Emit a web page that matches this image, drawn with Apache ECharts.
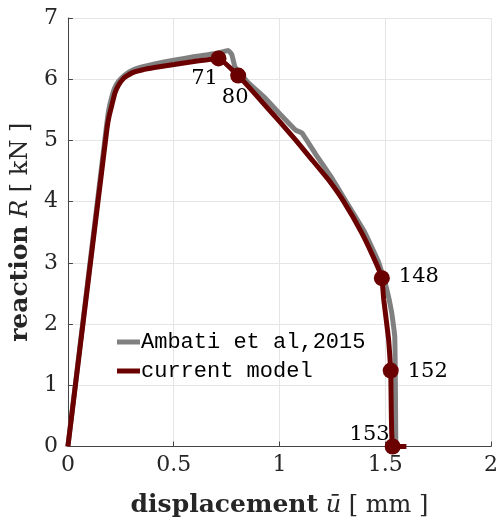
<!DOCTYPE html>
<html><head><meta charset="utf-8">
<script src="https://cdn.jsdelivr.net/npm/echarts@6/dist/echarts.min.js"></script>
<style>html,body{margin:0;padding:0;background:#fff}#c{width:501px;height:523px}</style>
</head><body><div id="c"></div>
<script>
// Ambati et al, 2015 (reference curve)
const ambatiX = [0, 0.183, 0.193, 0.205, 0.22, 0.24, 0.27, 0.30, 0.35, 0.41, 0.50, 0.60, 0.70, 0.758, 0.775, 0.79, 0.85, 0.93, 1.00, 1.076, 1.107, 1.17, 1.245, 1.31, 1.40, 1.47, 1.505, 1.53, 1.545, 1.548, 1.55];
const ambatiY = [0, 5.25, 5.50, 5.68, 5.85, 5.97, 6.07, 6.14, 6.20, 6.25, 6.31, 6.37, 6.42, 6.47, 6.40, 6.20, 5.95, 5.70, 5.44, 5.17, 5.12, 4.78, 4.40, 4.03, 3.52, 3.00, 2.60, 2.20, 1.80, 1.00, 0];
// current model
const modelX = [0, 0.185, 0.195, 0.208, 0.222, 0.239, 0.265, 0.301, 0.35, 0.409, 0.502, 0.595, 0.712, 0.805, 0.90, 1.00, 1.078, 1.15, 1.231, 1.304, 1.389, 1.456, 1.484, 1.493, 1.516, 1.526, 1.535, 1.60];
const modelY = [0, 5.20, 5.40, 5.58, 5.77, 5.90, 6.02, 6.10, 6.15, 6.19, 6.24, 6.29, 6.34, 6.06, 5.70, 5.31, 5.00, 4.70, 4.36, 4.00, 3.49, 3.00, 2.75, 2.40, 1.75, 1.24, 0, 0];
// labelled steps
const stepIds = ['71', '80', '148', '152', '153'];
const stepX = [0.712, 0.805, 1.484, 1.526, 1.535];
const stepY = [6.34, 6.06, 2.75, 1.24, 0];
const xTicks = [0, 0.5, 1, 1.5, 2];
const yTicks = [0, 1, 2, 3, 4, 5, 6, 7];

const labelOffsets = [[-14, 20], [-3, 22], [37, -2], [37, 1], [-23, -12]];

const red = '#6b0000', gray = '#808080';
const serif = '"DejaVu Serif", "Liberation Serif", serif';
const zip = (a, b) => a.map((v, i) => [v, b[i]]);

const chart = echarts.init(document.getElementById('c'));
const titleStyle = {
  fontFamily: serif, fontSize: 24, color: '#262626', verticalAlign: 'middle',
  rich: { b: { fontFamily: serif, fontSize: 25, fontWeight: 'bold', color: '#262626' },
          i: { fontFamily: serif, fontSize: 24, fontStyle: 'italic', color: '#262626' },
          n: { fontFamily: serif, fontSize: 24, color: '#262626' } }
};
chart.setOption({
  animation: false,
  backgroundColor: '#fff',
  grid: { left: 67, right: 4, top: 18, bottom: 76 },
  legend: {
    data: ['Ambati et al,2015', 'current model'],
    orient: 'vertical', left: 112, top: 326,
    icon: 'rect', itemWidth: 23, itemHeight: 5, itemGap: 7,
    textStyle: { fontFamily: '"Liberation Mono", "DejaVu Sans Mono", monospace', fontSize: 22, color: '#000', padding: [0, 0, 0, -4] }
  },
  xAxis: {
    type: 'value', min: xTicks[0], max: xTicks[xTicks.length - 1], interval: 0.5,
    axisLine: { show: true, lineStyle: { color: '#444', width: 1 } },
    axisTick: { show: true, inside: true, length: 5, lineStyle: { color: '#444' } },
    axisLabel: { fontFamily: serif, fontSize: 22, color: '#262626', margin: 8, formatter: v => String(v) },
    splitLine: { show: true, lineStyle: { color: '#e5e5e5', width: 1 } },
    name: '{b|displacement} {i|ū} {n|[ mm ]}',
    nameLocation: 'middle', nameGap: 59,
    nameTextStyle: titleStyle
  },
  yAxis: {
    type: 'value', min: yTicks[0], max: yTicks[yTicks.length - 1], interval: 1,
    axisLine: { show: true, lineStyle: { color: '#444', width: 1 } },
    axisTick: { show: true, inside: true, length: 5, lineStyle: { color: '#444' } },
    axisLabel: { fontFamily: serif, fontSize: 22, color: '#262626', margin: 10 },
    splitLine: { show: true, lineStyle: { color: '#e5e5e5', width: 1 } },
    name: '{b|reaction} {i|R} {n|[ kN ]}',
    nameLocation: 'middle', nameGap: 40, nameRotate: 90,
    nameTextStyle: titleStyle
  },
  series: [
    { name: 'Ambati et al,2015', type: 'line', data: zip(ambatiX, ambatiY), showSymbol: false,
      smooth: 0.1, lineStyle: { color: gray, width: 5 }, itemStyle: { color: gray }, z: 2 },
    { name: 'current model', type: 'line', data: zip(modelX, modelY), showSymbol: false,
      smooth: 0.1, lineStyle: { color: red, width: 5 }, itemStyle: { color: red }, z: 3 },
    { name: 'steps', type: 'scatter', symbolSize: 16, itemStyle: { color: red, opacity: 1 }, z: 4,
      data: stepIds.map((id, i) => ({
        value: [stepX[i], stepY[i]],
        label: { show: true, formatter: id, position: 'inside', offset: labelOffsets[i],
                 fontFamily: serif, fontSize: 21, color: '#000' }
      })) }
  ]
});
</script></body></html>
